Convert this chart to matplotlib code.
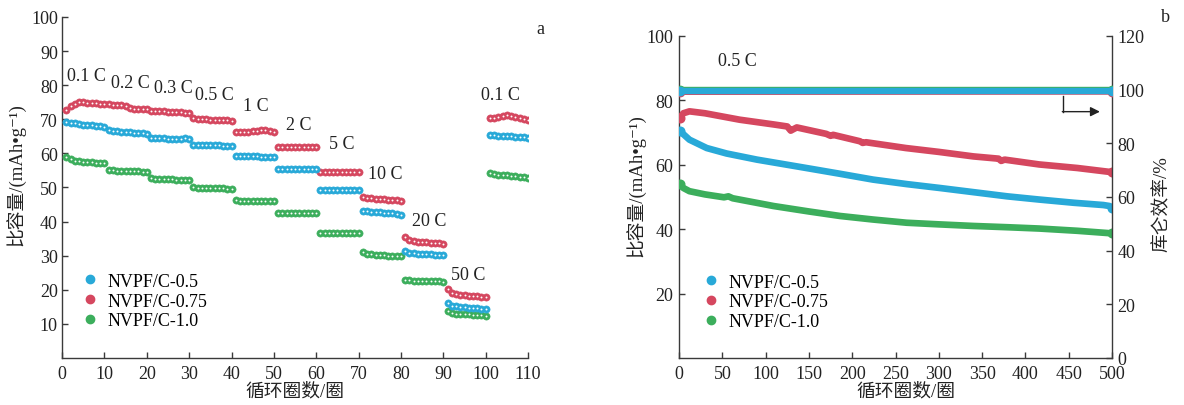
import matplotlib
matplotlib.use("Agg")
import matplotlib.pyplot as plt
from matplotlib.lines import Line2D

plt.rcParams['font.family'] = ['Liberation Serif', 'Noto Sans CJK SC', 'DejaVu Serif']
plt.rcParams['axes.unicode_minus'] = False

# ---------------- data: panel a (rate performance) ----------------
rate_labels = ['0.1 C', '0.2 C', '0.3 C', '0.5 C', '1 C', '2 C', '5 C', '10 C', '20 C', '50 C', '0.1 C']
cycles_a = list(range(1, 111))

cap_a_05 = [69.3, 69.0, 68.8, 68.6, 68.4, 68.3, 68.2, 68.1, 68.0, 67.8,
            66.8, 66.6, 66.5, 66.4, 66.3, 66.2, 66.1, 66.0, 65.9, 65.8,
            64.6, 64.5, 64.4, 64.4, 64.3, 64.3, 64.3, 64.3, 64.4, 64.2,
            62.5, 62.4, 62.4, 62.4, 62.4, 62.4, 62.4, 62.3, 62.3, 62.3,
            59.3, 59.2, 59.2, 59.1, 59.1, 59.1, 59.0, 59.0, 59.0, 58.9,
            55.5, 55.4, 55.4, 55.4, 55.4, 55.4, 55.3, 55.3, 55.3, 55.3,
            49.4, 49.4, 49.3, 49.3, 49.3, 49.3, 49.3, 49.3, 49.2, 49.2,
            43.2, 43.0, 42.9, 42.8, 42.7, 42.6, 42.5, 42.4, 42.2, 42.0,
            31.3, 30.8, 30.7, 30.6, 30.5, 30.5, 30.4, 30.3, 30.3, 30.2,
            16.0, 15.3, 15.1, 15.0, 14.9, 14.8, 14.7, 14.6, 14.5, 14.4,
            65.4, 65.3, 65.2, 65.2, 65.1, 65.0, 64.9, 64.8, 64.7, 64.5]

cap_a_075 = [72.8, 74.0, 74.6, 75.0, 75.0, 74.9, 74.8, 74.7, 74.6, 74.5,
             74.4, 74.3, 74.2, 74.1, 74.0, 73.2, 73.1, 73.0, 73.0, 72.9,
             72.5, 72.4, 72.3, 72.3, 72.2, 72.1, 72.0, 72.0, 71.9, 71.7,
             70.3, 70.2, 70.1, 70.0, 69.9, 69.9, 69.8, 69.7, 69.7, 69.6,
             66.2, 66.3, 66.3, 66.4, 66.5, 66.6, 66.8, 66.8, 66.7, 66.4,
             62.0, 62.0, 62.0, 62.0, 62.0, 61.9, 61.9, 61.9, 61.9, 61.8,
             54.6, 54.6, 54.5, 54.5, 54.5, 54.5, 54.5, 54.4, 54.4, 54.4,
             47.1, 46.9, 46.8, 46.7, 46.6, 46.5, 46.4, 46.3, 46.2, 46.1,
             35.4, 34.6, 34.2, 34.1, 34.0, 33.9, 33.8, 33.7, 33.6, 33.5,
             20.2, 19.0, 18.7, 18.5, 18.4, 18.3, 18.2, 18.1, 18.0, 17.9,
             70.3, 70.5, 70.8, 71.1, 71.3, 71.1, 70.8, 70.5, 70.2, 69.8]

cap_a_10 = [58.8, 58.2, 57.9, 57.7, 57.6, 57.5, 57.4, 57.3, 57.3, 57.1,
            55.2, 55.0, 54.9, 54.9, 54.8, 54.8, 54.7, 54.7, 54.6, 54.5,
            52.7, 52.6, 52.5, 52.5, 52.4, 52.4, 52.3, 52.3, 52.2, 52.1,
            50.0, 49.9, 49.9, 49.8, 49.8, 49.8, 49.7, 49.7, 49.6, 49.5,
            46.2, 46.1, 46.1, 46.1, 46.1, 46.0, 46.0, 46.0, 46.0, 46.0,
            42.6, 42.6, 42.6, 42.6, 42.6, 42.6, 42.6, 42.6, 42.6, 42.6,
            36.7, 36.6, 36.6, 36.6, 36.6, 36.6, 36.6, 36.6, 36.6, 36.6,
            31.0, 30.6, 30.4, 30.3, 30.2, 30.1, 30.0, 30.0, 29.9, 29.8,
            22.9, 22.8, 22.7, 22.7, 22.6, 22.6, 22.5, 22.5, 22.5, 22.4,
            13.9, 13.2, 13.0, 12.9, 12.8, 12.8, 12.7, 12.6, 12.5, 12.4,
            54.3, 54.0, 53.8, 53.7, 53.6, 53.5, 53.4, 53.2, 53.0, 52.8]

# label anchor (cycle, capacity) for each rate text
rate_label_x = [1.2, 11.6, 21.6, 31.5, 42.7, 52.8, 63.0, 72.3, 82.7, 91.7, 98.8]
rate_label_y = [82.7, 80.9, 79.2, 77.4, 73.9, 68.6, 62.8, 54.0, 40.2, 24.6, 77.4]

# ---------------- data: panel b (long cycling at 0.5 C) ----------------
cyc_b_05 = [1, 5, 12, 32, 55, 90, 147, 186, 224, 263, 301, 340, 379, 416, 456, 490, 497, 500]
cap_b_05 = [70.4, 69.5, 67.8, 65.2, 63.5, 61.6, 59.0, 57.2, 55.4, 54.0, 52.8, 51.5, 50.2, 49.2, 48.2, 47.5, 47.2, 46.5]

cyc_b_075 = [1, 5, 12, 30, 70, 110, 125, 129, 131, 136, 170, 175, 178, 209, 212, 216, 262, 300, 340, 369, 372, 376, 416, 460, 500]
cap_b_075 = [74.5, 76.0, 76.6, 76.0, 74.0, 72.5, 71.9, 70.6, 70.9, 71.6, 69.6, 69.0, 69.3, 67.3, 66.8, 67.0, 65.2, 64.0, 62.6, 61.9, 61.2, 61.6, 60.1, 59.0, 57.7]

cyc_b_10 = [1, 5, 12, 30, 52, 57, 62, 109, 150, 186, 224, 263, 300, 340, 380, 416, 460, 500]
cap_b_10 = [53.9, 52.8, 51.8, 50.8, 49.9, 50.2, 49.6, 47.2, 45.5, 44.1, 43.0, 42.0, 41.5, 41.0, 40.6, 40.2, 39.5, 38.7]

ce_cycles = [1, 500]
ce_05 = [99.6, 99.6]
ce_075 = [99.2, 99.3]
ce_10 = [100.0, 100.0]

series_names = ['NVPF/C-0.5', 'NVPF/C-0.75', 'NVPF/C-1.0']
colors = ['#28a9d8', '#d5475f', '#3cae5c']

ylabel_cap = '比容量/(mAh•g⁻¹)'
xlabel_cyc = '循环圈数/圈'
ylabel_ce = '库仑效率/%'

FS = 13
spine_c = '#3a3a3a'
txt_c = '#222222'

fig = plt.figure(figsize=(11.84, 4.06), dpi=100)

# ================= panel a =================
axa = fig.add_axes([0.0524, 0.1158, 0.3936, 0.8400])
for s, c in zip([cap_a_10, cap_a_075, cap_a_05], [colors[2], colors[1], colors[0]]):
    axa.plot(cycles_a, s, linestyle='none', marker='o', markersize=5.2,
             markerfacecolor=c, markeredgecolor=c, markeredgewidth=0.4, zorder=3)
    axa.plot(cycles_a, s, linestyle='none', marker='o', markersize=1.4,
             markerfacecolor='white', markeredgecolor='white', markeredgewidth=0, zorder=4)
for t, x, y in zip(rate_labels, rate_label_x, rate_label_y):
    axa.text(x, y, t, fontsize=FS, ha='left', va='center', color=txt_c)

axa.set_xlim(0, 110)
axa.set_ylim(0, 100)
axa.set_xticks(range(0, 111, 10))
axa.set_yticks(range(10, 101, 10))
axa.spines['top'].set_visible(False)
axa.spines['right'].set_visible(False)
for sp in ['left', 'bottom']:
    axa.spines[sp].set_color(spine_c)
    axa.spines[sp].set_linewidth(1.0)
axa.tick_params(direction='in', length=4.5, width=1.0, color=spine_c, labelsize=FS, pad=3, labelcolor=txt_c)
axa.tick_params(axis='x', pad=5)
axa.set_xlabel(xlabel_cyc, fontsize=13.5, color=txt_c)
axa.set_ylabel(ylabel_cap, fontsize=13.5, color=txt_c)
axa.yaxis.set_label_coords(-0.078, 0.54)
axa.xaxis.set_label_coords(0.5, -0.07)

handles = [Line2D([], [], linestyle='none', marker='o', markersize=6, color=c) for c in colors]
axa.legend(handles, series_names, loc='center left', bbox_to_anchor=(0.041, 0.167),
           frameon=False, fontsize=FS, handlelength=1.0, handletextpad=0.45,
           labelspacing=0.16, borderpad=0, borderaxespad=0)
fig.text(540 / 1184, 1 - 30 / 406, 'a', fontsize=FS, ha='center', va='center', color=txt_c)

# ================= panel b =================
axb = fig.add_axes([0.5735, 0.1158, 0.3657, 0.7931])
for cyc, s, c in zip([cyc_b_10, cyc_b_05, cyc_b_075], [cap_b_10, cap_b_05, cap_b_075],
                     [colors[2], colors[0], colors[1]]):
    axb.plot(cyc, s, color=c, lw=4.8, solid_capstyle='round', solid_joinstyle='round', zorder=3)
    axb.plot(cyc, s, linestyle='none', marker='o', markersize=6.2, color=c, markevery=[0, -1], zorder=3)
axb.text(45, 92.3, '0.5 C', fontsize=FS, ha='left', va='center', color=txt_c)

axb.set_xlim(0, 500)
axb.set_ylim(0, 100)
axb.set_xticks(range(0, 501, 50))
axb.set_yticks(range(20, 101, 20))
axb.spines['top'].set_visible(False)
axb.spines['right'].set_visible(False)
for sp in ['left', 'bottom']:
    axb.spines[sp].set_color(spine_c)
    axb.spines[sp].set_linewidth(1.0)
axb.tick_params(direction='in', length=4.5, width=1.0, color=spine_c, labelsize=FS, pad=4, labelcolor=txt_c)
axb.tick_params(axis='x', pad=5)
axb.set_xlabel(xlabel_cyc, fontsize=13.5, color=txt_c)
axb.set_ylabel(ylabel_cap, fontsize=13.5, color=txt_c)
axb.yaxis.set_label_coords(-0.077, 0.54)
axb.xaxis.set_label_coords(0.524, -0.074)
axb.legend(handles, series_names, loc='center left', bbox_to_anchor=(0.053, 0.174),
           frameon=False, fontsize=FS, handlelength=1.0, handletextpad=0.45,
           labelspacing=0.16, borderpad=0, borderaxespad=0)

axc = axb.twinx()
for s, c in zip([ce_075, ce_10, ce_05], [colors[1], colors[2], colors[0]]):
    axc.plot(ce_cycles, s, color=c, lw=4.6, solid_capstyle='round', zorder=3)
    axc.plot(ce_cycles, s, linestyle='none', marker='o', markersize=6, color=c, zorder=3)
axc.set_ylim(0, 120)
axc.set_yticks(range(0, 121, 20))
axc.spines['top'].set_visible(False)
axc.spines['left'].set_visible(False)
axc.spines['bottom'].set_visible(False)
axc.spines['right'].set_color(spine_c)
axc.spines['right'].set_linewidth(1.0)
axc.tick_params(direction='in', length=4.5, width=1.0, color=spine_c, labelsize=FS, pad=4, labelcolor=txt_c)
axc.set_ylabel(ylabel_ce, fontsize=13.5, color=txt_c)
axc.yaxis.set_label_coords(1.095, 0.48)
# arrow pointing to right axis
axc.plot([443, 443], [97.6, 91.8], color=txt_c, lw=1.0)
axc.annotate('', xy=(486, 91.8), xytext=(442.6, 91.8),
             arrowprops=dict(arrowstyle='-|>', color=txt_c, lw=1.0, mutation_scale=14,
                             shrinkA=0, shrinkB=0))
fig.text(1165 / 1184, 1 - 17 / 406, 'b', fontsize=FS, ha='center', va='center', color=txt_c)

fig.savefig('out.png', dpi=100)
